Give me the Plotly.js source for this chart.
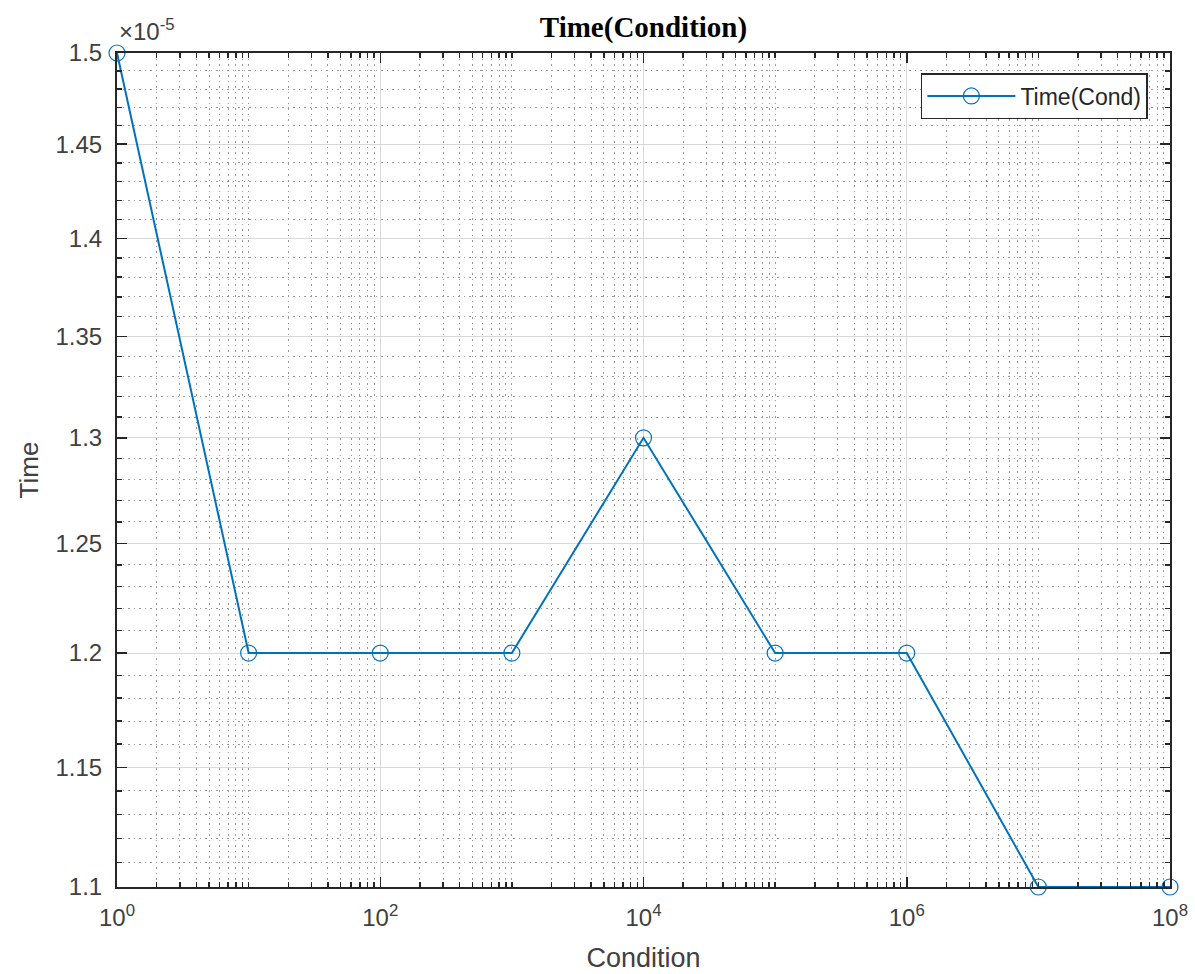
<!DOCTYPE html>
<html>
<head>
<meta charset="utf-8">
<script src="https://cdn.plot.ly/plotly-3.0.1.min.js"></script>
<style>html,body{margin:0;padding:0;background:#fff;}#chart{width:1195px;height:974px;}</style>
</head>
<body>
<div id="chart"></div>
<script>
const condition = [1, 10, 100, 1000, 10000, 100000, 1000000, 10000000, 100000000];
const timeValues = [1.5e-5, 1.2e-5, 1.2e-5, 1.2e-5, 1.3e-5, 1.2e-5, 1.2e-5, 1.1e-5, 1.1e-5];
const xTickVals = [1, 100, 10000, 1000000, 100000000];
const xTickText = ['10<sup>0</sup>', '10<sup>2</sup>', '10<sup>4</sup>', '10<sup>6</sup>', '10<sup>8</sup>'];
const yTickVals = [1.1e-5, 1.15e-5, 1.2e-5, 1.25e-5, 1.3e-5, 1.35e-5, 1.4e-5, 1.45e-5, 1.5e-5];
const yTickText = ['1.1', '1.15', '1.2', '1.25', '1.3', '1.35', '1.4', '1.45', '1.5'];

const xMinor = [];
for (let k = 0; k < 8; k++) {
  for (let m = 2; m <= 9; m++) xMinor.push(m * Math.pow(10, k));
}
for (let k = 1; k < 8; k += 2) xMinor.push(Math.pow(10, k));
const yMinor = [];
for (let i = 0; i <= 40; i++) {
  if (i % 5 !== 0) yMinor.push(1.1e-5 + i * 1e-7);
}

const trace = {
  x: condition, y: timeValues, type: 'scatter', mode: 'lines+markers',
  name: 'Time(Cond)',
  line: {color: '#0072BD', width: 2},
  marker: {symbol: 'circle-open', size: 16, color: '#0072BD', line: {width: 1.2, color: '#0072BD'}},
  cliponaxis: false
};

const sans = 'Liberation Sans, Arial, sans-serif';
const axisFont = {family: sans, size: 24, color: '#404040'};
const minorDash = '1.5px,4px';
const layout = {
  width: 1195, height: 974,
  margin: {l: 117, r: 25, t: 53, b: 87},
  paper_bgcolor: '#fff', plot_bgcolor: '#fff',
  showlegend: true,
  title: {text: '<b>Time(Condition)</b>', font: {family: 'Liberation Serif, Times New Roman, serif', size: 29, color: '#000'}, x: 0.5, xref: 'paper', y: 0.972, yanchor: 'middle'},
  xaxis: {
    type: 'log', range: [0, 8],
    tickvals: xTickVals, ticktext: xTickText,
    tickfont: axisFont, ticklabelstandoff: 8,
    ticks: 'inside', ticklen: 10, tickwidth: 1.5, tickcolor: '#262626',
    showline: true, linecolor: '#262626', linewidth: 2, mirror: 'allticks',
    showgrid: true, gridcolor: '#d9d9d9', gridwidth: 1,
    zeroline: false,
    minor: {tickvals: xMinor, ticks: 'inside', ticklen: 5, tickcolor: '#262626', showgrid: true, gridcolor: '#9a9a9a', griddash: minorDash, gridwidth: 1},
    title: {text: 'Condition', font: {family: sans, size: 27, color: '#404040'}, standoff: 18}
  },
  yaxis: {
    type: 'log', range: [Math.log10(1.1e-5), Math.log10(1.5e-5)],
    tickvals: yTickVals, ticktext: yTickText,
    tickfont: axisFont, ticklabelstandoff: 8,
    ticks: 'inside', ticklen: 10, tickwidth: 1.5, tickcolor: '#262626',
    showline: true, linecolor: '#262626', linewidth: 2, mirror: 'allticks',
    showgrid: true, gridcolor: '#d9d9d9', gridwidth: 1,
    zeroline: false,
    minor: {tickvals: yMinor, ticks: 'inside', ticklen: 5, tickcolor: '#262626', showgrid: true, gridcolor: '#9a9a9a', griddash: minorDash, gridwidth: 1},
    title: {text: 'Time', font: {family: sans, size: 26, color: '#404040'}, standoff: 9}
  },
  legend: {
    x: 0.979, xanchor: 'right', y: 0.976, yanchor: 'top',
    bgcolor: '#fff', bordercolor: '#262626', borderwidth: 1.5,
    itemwidth: 88,
    font: {family: sans, size: 23, color: '#262626'}
  },
  annotations: [{
    text: '×10<sup>-5</sup>', xref: 'paper', yref: 'paper', x: 0, y: 1, xanchor: 'left', yanchor: 'bottom',
    xshift: 0, yshift: 6, showarrow: false,
    font: {family: sans, size: 24, color: '#404040'}
  }]
};

Plotly.newPlot('chart', [trace], layout, {displayModeBar: false, staticPlot: true});
</script>
</body>
</html>
